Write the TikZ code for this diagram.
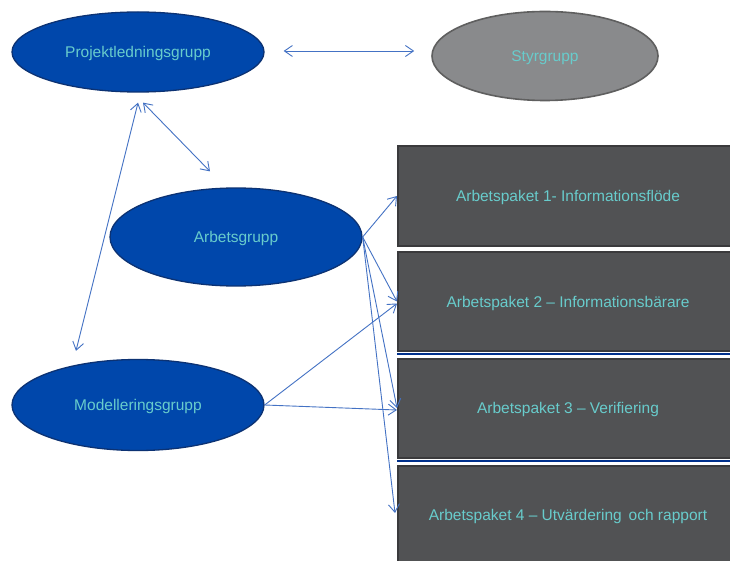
\documentclass[tikz,border=0pt]{standalone}
\usepackage{fontspec}
\setmainfont{Liberation Sans}
\usetikzlibrary{shapes.geometric,arrows.meta,calc}
\definecolor{ellfill}{RGB}{0,71,171}
\definecolor{elldraw}{RGB}{12,50,115}
\definecolor{txtteal}{RGB}{104,204,204}
\definecolor{greyfill}{RGB}{137,138,140}
\definecolor{greydraw}{RGB}{95,95,95}
\definecolor{boxfill}{RGB}{81,82,84}
\definecolor{boxdraw}{RGB}{58,58,60}
\definecolor{arrblue}{RGB}{68,114,196}
\definecolor{lineblue}{RGB}{0,48,140}
\tikzset{
  txt/.style={font=\fontsize{15.5}{18}\selectfont, text=txtteal, text depth=0pt},
  grp/.style={ellipse, txt, inner sep=0pt, fill=ellfill, draw=elldraw, line width=1.3pt},
  styr/.style={ellipse, txt, inner sep=0pt, fill=greyfill, draw=greydraw, line width=1.6pt},
  wpbox/.style={rectangle, txt, inner sep=0pt, fill=boxfill, draw=boxdraw, line width=2pt,
     minimum width=340pt, minimum height=99pt, anchor=west},
  conn/.style={draw=arrblue, line width=0.9pt, -{Straight Barb[length=8pt,width=11pt]}},
  dconn/.style={draw=arrblue, line width=0.9pt, {Straight Barb[length=8pt,width=11pt]}-{Straight Barb[length=8pt,width=11pt]}}
}
\begin{document}
\begin{tikzpicture}[x=1pt,y=-1pt]
\useasboundingbox (0,0) rectangle (730,561);
\clip (0,0) rectangle (730,561);
\fill[white] (0,0) rectangle (730,561);

% ellipses
\node[grp, minimum width=252pt, minimum height=80pt] (pl) at (138,52) {Projektledningsgrupp};
\node[styr, minimum width=226pt, minimum height=89pt] (sg) at (545,56) {Styrgrupp};
\node[grp, minimum width=252pt, minimum height=98pt] (ag) at (236,237) {Arbetsgrupp};
\node[grp, minimum width=252pt, minimum height=91pt] (mg) at (138,405) {Modelleringsgrupp};

% work package boxes
\node[wpbox] (b1) at (397,196) {Arbetspaket 1- Informationsflöde};
\node[wpbox] (b2) at (397,301.5) {Arbetspaket 2 – Informationsbärare};
\node[wpbox] (b3) at (397,408) {Arbetspaket 3 – Verifiering};
\node[wpbox] (b4) at (397,515) {Arbetspaket 4 – Utvärdering\, och rapport};

% blue under-lines
\draw[lineblue, line width=2pt] ($(b2.south west)+(0,2)$) -- ($(b2.south east)+(0,2)$);
\draw[lineblue, line width=2pt] ($(b3.south west)+(0,2)$) -- ($(b3.south east)+(0,2)$);

% connectors
\draw[dconn] ($(pl.east)+(19,-1)$) -- ($(sg.west)+(-17,-5)$);
\draw[dconn] ($(pl.south)+(5,10)$) -- ($(ag.north)+(-26,-16)$);
\draw[dconn] ($(pl.south)+(0,10)$) -- ($(mg.north)+(-62,-8)$);

\draw[conn] (ag.east) -- (b1.west);
\draw[conn] (ag.east) -- (b2.west);
\draw[conn] (ag.east) -- (b3.west);
\draw[conn] (ag.east) -- ($(b4.west)+(-2,-2)$);

\draw[conn] (mg.east) -- ($(b2.west)+(0,2)$);
\draw[conn] (mg.east) -- ($(b3.west)+(0,2)$);
\end{tikzpicture}
\end{document}
